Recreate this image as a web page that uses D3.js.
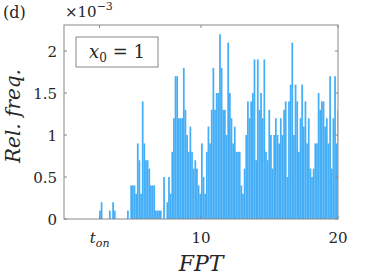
<!DOCTYPE html>
<html>
<head>
<meta charset="utf-8">
<script src="https://cdn.jsdelivr.net/npm/d3@7"></script>
<style>
    body { margin: 0; background: #fff; }
</style>
</head>
<body>
<div id="chart"></div>
<script>
// histogram bins (FPT), heights in units of 1e-3
const binStart = 2.56;
const binWidth = 0.12;
const relFreq = [
    0.1, 0.2, 0, 0, 0, 0, 0.1, 0, 0.2, 0.1,
    0, 0, 0, 0, 0, 0, 0, 0.1, 0, 0.4,
    0.4, 0.4, 0.3, 0.9, 0.7, 0.3, 1.4, 0.9, 0.7, 0.7,
    0.6, 0.4, 0.4, 0.4, 0.1, 0.1, 0.1, 0.1, 0, 0.5,
    0, 0.2, 0.5, 0.3, 0.8, 1.2, 1.7, 1.7, 1.2, 1.2,
    1.2, 1.8, 1.3, 1.0, 0.8, 1.1, 0.8, 0.6, 0.7, 0.6,
    0.4, 0.3, 0.9, 0.5, 0.3, 0.8, 1.1, 0.9, 1.3, 1.8,
    1.3, 1.5, 1.5, 2.2, 1.8, 1.3, 1.3, 1.0, 2.1, 1.5,
    1.2, 0.9, 1.1, 0.8, 0.8, 0.8, 0.4, 0.3, 0.6, 1.0,
    1.4, 1.2, 1.4, 1.5, 1.9, 0.7, 1.9, 1.3, 1.5, 1.2,
    1.9, 0.8, 0.7, 1.3, 1.0, 0.6, 1.0, 1.2, 1.0, 0.9,
    1.2, 1.0, 1.3, 1.4, 0.5, 1.4, 1.6, 2.1, 1.0, 1.6,
    1.4, 0.8, 1.2, 1.6, 1.1, 1.4, 0.9, 1.2, 0.6, 0.5,
    0.6, 0.9, 0.9, 1.5, 1.3, 1.4, 1.4, 1.1, 1.2, 0.9,
    1.7, 0.6, 1.2, 1.7, 0.9, 1.3
];

const xDomain = [0, 20];
const yDomain = [0, 2.31];
const xTicks = [2.6, 10, 20];
const xTickLabels = ['t_on', '10', '20'];
const yTicks = [0, 0.5, 1, 1.5, 2];
const yTickLabels = ['0', '0.5', '1', '1.5', '2'];
const legendText = 'x0 = 1';

const serif = 'DejaVu Serif';

function drawChart() {
    const width = 374;
    const height = 280;
    const margin = { top: 25, right: 36, bottom: 61, left: 64 };
    const axisColor = '#888';
    const textColor = '#262626';

    const svg = d3.select('#chart')
        .append('svg')
        .attr('width', width)
        .attr('height', height);

    const xScale = d3.scaleLinear().domain(xDomain).range([margin.left, width - margin.right]);
    const yScale = d3.scaleLinear().domain(yDomain).range([height - margin.bottom, margin.top]);

    svg.append('clipPath').attr('id', 'plotClip')
        .append('rect')
        .attr('x', margin.left).attr('y', margin.top)
        .attr('width', width - margin.left - margin.right)
        .attr('height', height - margin.top - margin.bottom);

    // bars
    svg.append('g')
        .attr('clip-path', 'url(#plotClip)')
        .selectAll('rect')
        .data(relFreq)
        .join('rect')
        .attr('x', (d, i) => xScale(binStart + i * binWidth))
        .attr('width', xScale(binWidth) - xScale(0) + 0.1)
        .attr('y', d => yScale(d))
        .attr('height', d => yScale(0) - yScale(d))
        .attr('fill', '#44aef6');

    // box
    svg.append('rect')
        .attr('x', margin.left).attr('y', margin.top)
        .attr('width', width - margin.left - margin.right)
        .attr('height', height - margin.top - margin.bottom)
        .attr('fill', 'none')
        .attr('stroke', axisColor)
        .attr('stroke-width', 1);

    const tickLen = 3;
    const x0 = xScale.range()[0], x1 = xScale.range()[1];
    const y0 = yScale.range()[0], y1 = yScale.range()[1];

    // helper so every label gets the serif face
    const addText = (x, y, size) => svg.append('text')
        .attr('x', x).attr('y', y)
        .attr('font-family', serif)
        .attr('font-size', size)
        .attr('fill', textColor);

    // y ticks, both sides, pointing inward
    yTicks.forEach((t, i) => {
        const y = yScale(t);
        svg.append('line').attr('x1', x0).attr('x2', x0 + tickLen).attr('y1', y).attr('y2', y).attr('stroke', axisColor);
        svg.append('line').attr('x1', x1).attr('x2', x1 - tickLen).attr('y1', y).attr('y2', y).attr('stroke', axisColor);
        addText(x0 - 7, y + 5.5, 15)
            .attr('text-anchor', 'end')
            .text(yTickLabels[i]);
    });

    // x ticks, top and bottom
    xTicks.forEach((t, i) => {
        const x = xScale(t);
        svg.append('line').attr('x1', x).attr('x2', x).attr('y1', y0).attr('y2', y0 - tickLen).attr('stroke', axisColor);
        svg.append('line').attr('x1', x).attr('x2', x).attr('y1', y1).attr('y2', y1 + tickLen).attr('stroke', axisColor);
        const label = addText(x, y0 + 24, 15).attr('text-anchor', 'middle');
        if (xTickLabels[i] === 't_on') {
            label.append('tspan').attr('font-style', 'italic').text('t');
            label.append('tspan').attr('font-style', 'italic').attr('font-size', 11).attr('dy', 4).text('on');
        } else {
            label.text(xTickLabels[i]);
        }
    });

    // exponent
    const expo = addText(65, 17, 15);
    expo.append('tspan').text('\u00d710');
    expo.append('tspan').attr('font-size', 11).attr('dy', -7).text('\u22123');

    // panel label
    addText(3, 18, 16).text('(d)');

    // axis labels
    addText((x0 + x1) / 2, 271, 22)
        .attr('text-anchor', 'middle')
        .attr('font-style', 'italic')
        .text('FPT');

    addText(0, 0, 20)
        .attr('transform', `translate(20, ${(y0 + y1) / 2 - 6}) rotate(-90)`)
        .attr('text-anchor', 'middle')
        .attr('font-style', 'italic')
        .text('Rel. freq.');

    // legend box
    svg.append('rect')
        .attr('x', 76).attr('y', 37)
        .attr('width', 82).attr('height', 30)
        .attr('fill', '#fff')
        .attr('stroke', axisColor)
        .attr('stroke-width', 1);

    const leg = addText(117, 57.5, 18).attr('text-anchor', 'middle');
    const parts = legendText.split(' = ');
    leg.append('tspan').attr('font-style', 'italic').text(parts[0].charAt(0));
    leg.append('tspan').attr('font-size', 12).attr('dy', 4).text(parts[0].slice(1));
    leg.append('tspan').attr('dy', -4).text(' = ' + parts[1]);
}

drawChart();
</script>
</body>
</html>
